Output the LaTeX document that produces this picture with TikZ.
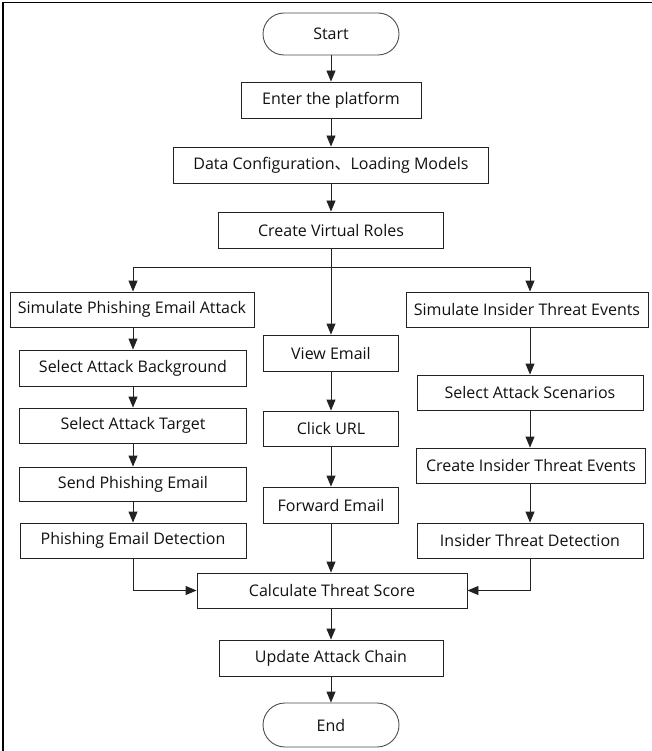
\documentclass[tikz,border=0pt]{standalone}
\usepackage{fontspec}
\setmainfont{Open Sans}
\newfontfamily\cjk{Noto Sans CJK SC}
\usetikzlibrary{arrows.meta,calc}
\definecolor{linec}{HTML}{222222}
\definecolor{textc}{HTML}{111111}
\tikzset{
  boxnode/.style={draw=linec, line width=0.9pt, rectangle, inner sep=0pt, text=textc,
    font=\fontsize{16}{18}\selectfont},
  termnode/.style={boxnode, draw=linec!80, rounded corners=21pt},
  arr/.style={draw=linec, line width=0.9pt, -{Triangle[length=11pt,width=9pt]}},
  ln/.style={draw=linec, line width=0.9pt}
}
\begin{document}
\begin{tikzpicture}[x=1pt,y=-1pt]
\useasboundingbox (0,0) rectangle (652,751);
\fill[white] (0,0) rectangle (652,751);
\draw[line width=1.6pt, black] (652,2.5) -- (3,2.5) -- (3,751);

% main column
\node[termnode, minimum width=136pt, minimum height=42pt] (start) at (331,34) {Start};
\node[boxnode, minimum width=180pt, minimum height=36pt] (enter) at (331,100) {Enter the platform};
\node[boxnode, minimum width=315pt, minimum height=36pt] (data) at (331,165) {Data Configuration{\cjk 、}Loading Models};
\node[boxnode, minimum width=225pt, minimum height=36pt] (create) at (331,230) {Create Virtual Roles};

% left column
\node[boxnode, minimum width=244pt, minimum height=35pt] (simP) at (132,309.5) {Simulate Phishing Email Attack};
\node[boxnode, minimum width=227pt, minimum height=36pt] (bg) at (133,368) {Select Attack Background};
\node[boxnode, minimum width=227pt, minimum height=35pt] (target) at (133,425.5) {Select Attack Target};
\node[boxnode, minimum width=227pt, minimum height=34pt] (send) at (133,484) {Send Phishing Email};
\node[boxnode, minimum width=226pt, minimum height=35pt] (detP) at (133,540.5) {Phishing Email Detection};

% middle column
\node[boxnode, minimum width=135pt, minimum height=36pt] (view) at (331,353) {View Email};
\node[boxnode, minimum width=135pt, minimum height=35pt] (click) at (331,428.5) {Click URL};
\node[boxnode, minimum width=135pt, minimum height=36pt] (fwd) at (331,505) {Forward Email};

% right column
\node[boxnode, minimum width=242pt, minimum height=35pt] (simI) at (527,309.5) {Simulate Insider Threat Events};
\node[boxnode, minimum width=226pt, minimum height=35pt] (scen) at (530,392.5) {Select Attack Scenarios};
\node[boxnode, minimum width=229pt, minimum height=35pt] (cins) at (531,465.5) {Create Insider Threat Events};
\node[boxnode, minimum width=226pt, minimum height=35pt] (detI) at (530,540.5) {Insider Threat Detection};

% bottom
\node[boxnode, minimum width=270pt, minimum height=35pt] (calc) at (332,590.5) {Calculate Threat Score};
\node[boxnode, minimum width=224pt, minimum height=36pt] (update) at (331,658) {Update Attack Chain};
\node[termnode, minimum width=136pt, minimum height=44pt, rounded corners=22pt] (end) at (331,725) {End};

% connectors
\draw[arr] (start) -- (enter);
\draw[arr] (enter) -- (data);
\draw[arr] (data) -- (create);
\draw[arr] (create.south) -- (view.north);
\coordinate (brL) at (133,267);
\coordinate (brR) at (530,267);
\draw[ln] (brL) -- (brR);
\draw[arr] (brL) -- (brL |- simP.north);
\draw[arr] (brR) -- (brR |- simI.north);

\draw[arr] (brL |- simP.south) -- (bg.north -| brL);
\draw[arr] (bg) -- (target);
\draw[arr] (target) -- (send);
\draw[arr] (send) -- (detP);

\draw[arr] (view) -- (click);
\draw[arr] (click) -- (fwd);
\draw[arr] (fwd.south) -- (calc.north -| fwd.south);

\draw[arr] (brR |- simI.south) -- (scen.north);
\draw[arr] (scen.south) -- (scen.south |- cins.north);
\draw[arr] (scen.south |- cins.south) -- (detI.north);

\draw[arr] (detP.south) |- (calc.west);
\draw[arr] (detI.south) |- (calc.east);
\draw[arr] (calc.south -| update.north) -- (update.north);
\draw[arr] (update) -- (end);
\end{tikzpicture}
\end{document}
